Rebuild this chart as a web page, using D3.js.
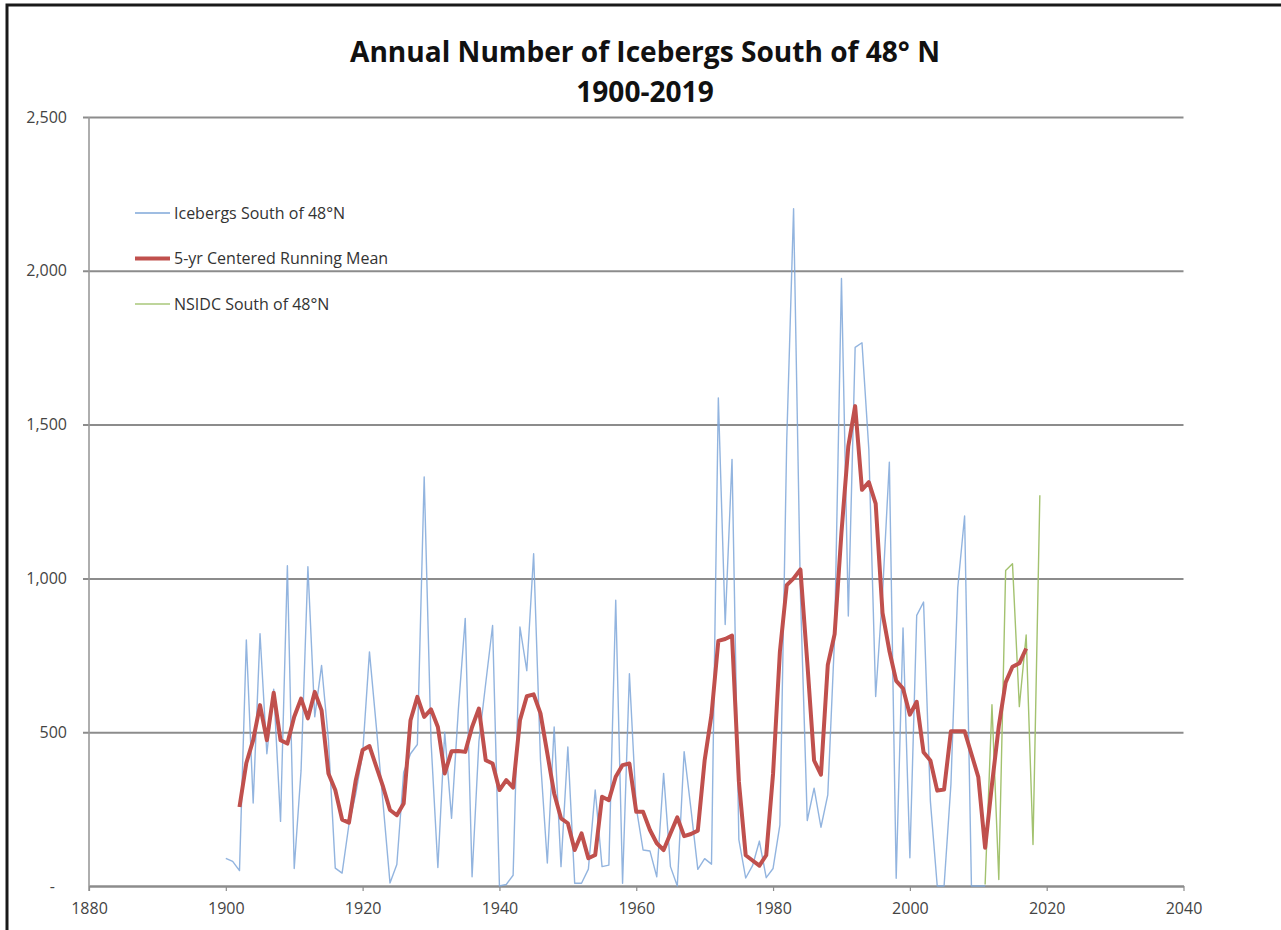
<!DOCTYPE html>
<html>
<head>
<meta charset="utf-8">
<script src="https://cdn.jsdelivr.net/npm/d3@7/dist/d3.min.js"></script>
<style>
  body { margin: 0; background: #fff; }
  text { font-family: "Open Sans", Lato, sans-serif; }
</style>
</head>
<body>
<div id="chart"></div>
<script>
// Icebergs south of 48N (IIP), first year 1900
const icebergStart = 1900;
const icebergCounts = [
  90, 80, 50, 800, 270, 820, 430, 640, 210, 1041,
  57, 375, 1038, 550, 717, 475, 58, 42, 200, 300,
  430, 761, 519, 265, 10, 70, 370, 430, 460, 1330,
  470, 60, 500, 220, 575, 870, 30, 470, 660, 847,
  0, 5, 35, 842, 700, 1080, 410, 75, 517, 63,
  452, 9, 9, 55, 312, 63, 68, 929, 9, 690,
  255, 117, 114, 30, 366, 63, 0, 437, 250, 54,
  89, 71, 1587, 850, 1387, 151, 26, 66, 146, 27,
  57, 199, 1450, 2202, 950, 213, 318, 191, 296, 810,
  1975, 878, 1751, 1766, 1420, 616, 950, 1378, 25, 839,
  92, 880, 923, 275, 0, 0, 330, 970, 1203, 0,
  0, 0
];

// 5-yr centered running mean, first year 1902
const meanStart = 1902;
const meanCounts = [
  257, 400, 474, 588, 474, 628, 474, 463,
  550, 609, 545, 631, 571, 366, 312, 216, 206, 344,
  442, 455, 388, 322, 247, 230, 268, 539, 615, 550,
  574, 517, 366, 438, 439, 436, 517, 577, 409, 398,
  312, 344, 320, 539, 617, 623, 561, 431, 301, 220,
  204, 117, 171, 90, 101, 290, 279, 355, 393, 398,
  241, 241, 182, 139, 117, 171, 223, 162, 169, 180,
  409, 557, 797, 803, 814, 340, 100, 83, 66, 100,
  365, 762, 978, 1000, 1029, 728, 408, 362, 719, 819,
  1150, 1430, 1560, 1288, 1313, 1243, 888, 765, 667, 642,
  557, 599, 435, 408, 310, 314, 503, 503, 503, 429,
  355, 124, 330, 520, 662, 713, 724, 772
];

// NSIDC south of 48N, first year 2011
const nsidcStart = 2011;
const nsidcCounts = [5, 589, 21, 1026, 1048, 583, 816, 135, 1270];

const xTicks = [1880, 1900, 1920, 1940, 1960, 1980, 2000, 2020, 2040];
const yTicks = [0, 500, 1000, 1500, 2000, 2500];

const legendLabels = ["Icebergs South of 48°N", "5-yr Centered Running Mean", "NSIDC South of 48°N"];
const legendColors = ["#7fa7d9", "#c0504d", "#a9c77a"];
const legendWidths = [1.4, 4, 1.4];

const W = 1281, H = 930;
const svg = d3.select("#chart").append("svg")
  .attr("width", W).attr("height", H);

// outer frame (top + left edges visible)
svg.append("path")
  .attr("d", "M7," + (H + 5) + " L7,5 L" + (W + 5) + ",5")
  .attr("fill", "none")
  .attr("stroke", "#1a1a1a")
  .attr("stroke-width", 3);

const x = d3.scaleLinear().domain([1880, 2040]).range([89, 1183.5]);
const y = d3.scaleLinear().domain([0, 2500]).range([886, 117]);

// gridlines + y labels
const yAxis = svg.append("g")
  .attr("class", "axis y-axis")
  .attr("transform", "translate(89,0)")
  .call(d3.axisLeft(y)
    .tickValues(yTicks)
    .tickSize(-(x(2040) - 89))
    .tickPadding(22)
    .tickFormat(d => d === 0 ? "-" : d3.format(",")(d)));
yAxis.select(".domain").remove();
yAxis.selectAll(".tick line")
  .attr("x1", -6)
  .attr("stroke", "#8c8c8c")
  .attr("stroke-width", 2)
  .attr("stroke-opacity", d => d === 0 ? 0 : 1);
yAxis.selectAll(".tick text")
  .attr("fill", "#444")
  .style("font-size", "16px")
  .attr("dx", d => d === 0 ? -12 : 0);

// vertical axis line
svg.append("line")
  .attr("x1", 89).attr("x2", 89)
  .attr("y1", y(2500)).attr("y2", y(0) + 5)
  .attr("stroke", "#9a9a9a")
  .attr("stroke-width", 1.6);

// x axis
const xAxis = svg.append("g")
  .attr("class", "axis x-axis")
  .attr("transform", "translate(0,886)")
  .call(d3.axisBottom(x)
    .tickValues(xTicks)
    .tickSize(5)
    .tickSizeOuter(0)
    .tickPadding(12)
    .tickFormat(d3.format("d")));
xAxis.select(".domain").attr("stroke", "#8c8c8c").attr("stroke-width", 2.5);
xAxis.selectAll(".tick line").attr("stroke", "#8c8c8c").attr("stroke-width", 1.2);
xAxis.selectAll(".tick text")
  .attr("fill", "#444")
  .style("font-size", "16px");

const line = d3.line()
  .x(d => x(d.year))
  .y(d => y(d.value));

function toPoints(start, values) {
  return values.map((v, i) => ({year: start + i, value: v}));
}

svg.append("path")
  .datum(toPoints(icebergStart, icebergCounts))
  .attr("fill", "none")
  .attr("stroke", "#7fa7d9")
  .attr("stroke-opacity", 0.85)
  .attr("stroke-width", 1.4)
  .attr("stroke-linejoin", "round")
  .attr("d", line);

svg.append("path")
  .datum(toPoints(nsidcStart, nsidcCounts))
  .attr("fill", "none")
  .attr("stroke", "#a3c26f")
  .attr("stroke-width", 1.4)
  .attr("stroke-linejoin", "round")
  .attr("d", line);

svg.append("path")
  .datum(toPoints(meanStart, meanCounts))
  .attr("fill", "none")
  .attr("stroke", "#c0504d")
  .attr("stroke-width", 4)
  .attr("stroke-linejoin", "round")
  .attr("d", line);

// legend
const legend = svg.append("g").attr("class", "legend");
legendLabels.forEach((label, i) => {
  const ly = 213 + i * 45.5;
  legend.append("line")
    .attr("x1", 135).attr("x2", 170)
    .attr("y1", ly).attr("y2", ly)
    .attr("stroke", legendColors[i])
    .attr("stroke-width", legendWidths[i]);
  legend.append("text")
    .attr("x", 174).attr("y", ly)
    .attr("dy", "0.36em")
    .attr("fill", "#333")
    .style("font-size", "16px")
    .text(label);
});

// title, sized so the first line spans the same width as the original
const title = svg.append("g").attr("class", "title");
const t1 = title.append("text")
  .attr("x", 645).attr("y", 62)
  .attr("text-anchor", "middle")
  .attr("fill", "#111")
  .style("font-size", "28px")
  .style("font-weight", "bold")
  .text("Annual Number of Icebergs South of 48° N");
const fitSize = 28 * 590 / t1.node().getComputedTextLength();
t1.style("font-size", fitSize + "px");
title.append("text")
  .attr("x", 645).attr("y", 102)
  .attr("text-anchor", "middle")
  .attr("fill", "#111")
  .style("font-size", fitSize + "px")
  .style("font-weight", "bold")
  .text("1900-2019");
</script>
</body>
</html>
